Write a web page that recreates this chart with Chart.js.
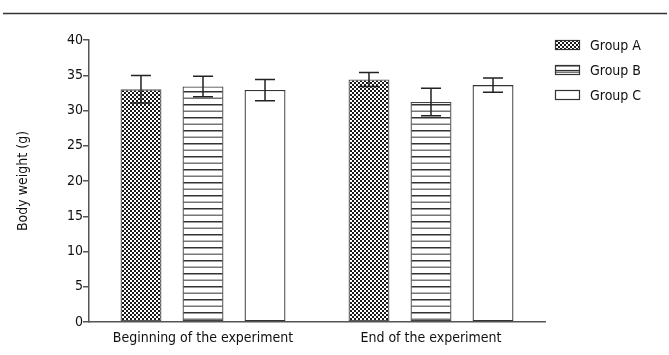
<!DOCTYPE html>
<html>
<head>
<meta charset="utf-8">
<script src="https://cdn.jsdelivr.net/npm/chart.js@4.4.0/dist/chart.umd.min.js"></script>
<style>
  html, body { margin: 0; padding: 0; background: #fff; }
  #wrap { width: 669px; height: 355px; position: relative; }
</style>
</head>
<body>
<div id="wrap"><canvas id="bw-chart" width="669" height="355"></canvas></div>
<script>
// Data
const categories = ["Beginning of the experiment", "End of the experiment"];
const groupNames = ["Group A", "Group B", "Group C"];
const groupA = [33.0, 34.4];
const groupB = [33.4, 31.2];
const groupC = [32.9, 33.6];
const errA = [1.95, 1.0];
const errB = [1.45, 1.95];
const errC = [1.5, 1.0];
const yMin = 0, yMax = 40, yStep = 5;

const FONT = '"Liberation Sans Narrow", "DejaVu Sans Condensed", "Noto Sans", sans-serif';

// fill patterns
function checkerPattern() {
  const c = document.createElement("canvas");
  c.width = 4; c.height = 4;
  const g = c.getContext("2d");
  g.fillStyle = "#fff"; g.fillRect(0, 0, 4, 4);
  g.fillStyle = "#1a1a1a";
  g.fillRect(0, 0, 2, 2); g.fillRect(2, 2, 2, 2);
  return g.createPattern(c, "repeat");
}
function stripePattern() {
  const c = document.createElement("canvas");
  c.width = 4; c.height = 13;
  const g = c.getContext("2d");
  g.fillStyle = "#fff"; g.fillRect(0, 0, 4, 13);
  g.fillStyle = "#333"; g.fillRect(0, 0, 4, 1.5);
  g.fillStyle = "#777"; g.fillRect(0, 6.5, 4, 1.5);
  return g.createPattern(c, "repeat");
}

const fills = [checkerPattern(), stripePattern(), "#ffffff"];
const borders = ["#555", "#444", "#333"];
const errors = [errA, errB, errC];

// white background + rule at top
const frame = {
  id: "frame",
  beforeDraw(chart) {
    const ctx = chart.ctx;
    ctx.save();
    ctx.fillStyle = "#fff";
    ctx.fillRect(0, 0, chart.width, chart.height);
    ctx.strokeStyle = "#333";
    ctx.lineWidth = 1.5;
    ctx.beginPath();
    ctx.moveTo(3, 13.5);
    ctx.lineTo(667, 13.5);
    ctx.stroke();
    ctx.restore();
  }
};

// error bars (mean ± SD)
const errorBars = {
  id: "errorBars",
  afterDatasetsDraw(chart) {
    const ctx = chart.ctx;
    const y = chart.scales.y;
    ctx.save();
    ctx.strokeStyle = "#222";
    ctx.lineWidth = 1.5;
    chart.data.datasets.forEach((ds, di) => {
      chart.getDatasetMeta(di).data.forEach((bar, i) => {
        const v = ds.data[i], e = errors[di][i];
        const top = y.getPixelForValue(v + e);
        const bot = y.getPixelForValue(v - e);
        ctx.beginPath();
        ctx.moveTo(bar.x, top); ctx.lineTo(bar.x, bot);
        ctx.moveTo(bar.x - 10, top); ctx.lineTo(bar.x + 10, top);
        ctx.moveTo(bar.x - 10, bot); ctx.lineTo(bar.x + 10, bot);
        ctx.stroke();
      });
    });
    ctx.restore();
  }
};

// legend on the right
const sideLegend = {
  id: "sideLegend",
  afterDraw(chart) {
    const ctx = chart.ctx;
    ctx.save();
    ctx.font = "14px " + FONT;
    ctx.textBaseline = "middle";
    chart.data.datasets.forEach((ds, i) => {
      const cy = 45 + i * 25;
      ctx.fillStyle = ds.backgroundColor;
      ctx.fillRect(555, cy - 5, 25, 10);
      ctx.strokeStyle = "#333";
      ctx.lineWidth = 1.2;
      ctx.strokeRect(555.5, cy - 4.5, 24, 9);
      if (i === 1) {
        ctx.beginPath();
        ctx.moveTo(555, cy + 0.5); ctx.lineTo(580, cy + 0.5);
        ctx.stroke();
      }
      ctx.fillStyle = "#111";
      ctx.fillText(ds.label, 590, cy + 1);
    });
    ctx.restore();
  }
};

const datasets = [groupA, groupB, groupC].map((vals, i) => ({
  label: groupNames[i],
  data: vals,
  backgroundColor: fills[i],
  borderColor: borders[i],
  borderWidth: 1.3,
  borderSkipped: false,
  categoryPercentage: 0.816,
  barPercentage: 0.66
}));

new Chart(document.getElementById("bw-chart"), {
  type: "bar",
  data: { labels: categories, datasets: datasets },
  options: {
    responsive: false,
    animation: false,
    layout: { padding: { top: 40, right: 124, bottom: 0, left: 0 } },
    plugins: {
      legend: { display: false },
      tooltip: { enabled: false }
    },
    scales: {
      x: {
        grid: { display: false },
        border: { display: true, color: "#555", width: 1.5 },
        ticks: { color: "#111", font: { family: FONT, size: 14 }, padding: 0 },
        afterFit(s) { s.height = 33; }
      },
      y: {
        min: yMin,
        max: yMax,
        grid: { display: true, drawOnChartArea: false, drawTicks: true, tickLength: 6, color: "#555", lineWidth: 1.5 },
        border: { display: true, color: "#555", width: 1.5 },
        ticks: { stepSize: yStep, color: "#111", font: { family: FONT, size: 14 }, padding: 0 },
        title: { display: true, text: "Body weight (g)", color: "#111", font: { family: FONT, size: 14 }, padding: { top: 15 } },
        afterFit(s) { s.width = 89; }
      }
    }
  },
  plugins: [frame, errorBars, sideLegend]
});
</script>
</body>
</html>
